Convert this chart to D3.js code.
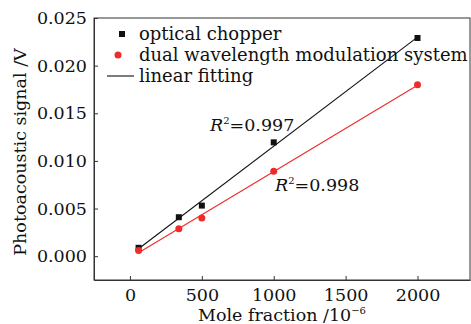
<!DOCTYPE html>
<html>
<head>
<meta charset="utf-8">
<script src="https://cdn.jsdelivr.net/npm/d3@7"></script>
<style>
  body { margin: 0; background: #fff; }
  svg text { font-family: "DejaVu Serif", serif; fill: #111; }
</style>
</head>
<body>
<svg id="chart" width="471" height="324"></svg>
<script>
// data
var moleFraction = [60, 340, 500, 1000, 2000];
var chopperSignal = [0.00088, 0.00409, 0.00531, 0.01195, 0.0229];
var dualSignal = [0.0006, 0.00287, 0.00402, 0.00891, 0.0180];
var xTicks = [0, 500, 1000, 1500, 2000];
var yTicks = [0, 0.005, 0.010, 0.015, 0.020, 0.025];
var seriesNames = ["optical chopper", "dual wavelength modulation system", "linear fitting"];
var r2Labels = ["0.997", "0.998"];

var svg = d3.select("#chart");
var plotLeft = 94, plotRight = 470, plotTop = 18, plotBottom = 280;
var red = "#ee2c2c";
var fontSize = "17.5px";

var x = d3.scaleLinear().domain([-250, 2365]).range([plotLeft, plotRight]);
var y = d3.scaleLinear().domain([-0.0025, 0.025]).range([plotBottom, plotTop]);

// least squares fit
function fit(xs, ys) {
    var mx = d3.mean(xs), my = d3.mean(ys);
    var sxy = d3.sum(xs, function(v, i) { return (v - mx) * (ys[i] - my); });
    var sxx = d3.sum(xs, function(v) { return (v - mx) * (v - mx); });
    var b = sxy / sxx;
    return { slope: b, intercept: my - b * mx };
}

// frame
svg.append("rect")
    .attr("x", plotLeft).attr("y", plotTop)
    .attr("width", plotRight - plotLeft).attr("height", plotBottom - plotTop)
    .attr("fill", "none").attr("stroke", "#333").attr("stroke-width", 1);

// axes (ticks inward)
var xAxis = svg.append("g").attr("transform", "translate(0," + plotBottom + ")")
    .call(d3.axisBottom(x).tickValues(xTicks).tickSizeInner(-4).tickSizeOuter(0).tickPadding(9)
        .tickFormat(d3.format("d")));
var yAxis = svg.append("g").attr("transform", "translate(" + plotLeft + ",0)")
    .call(d3.axisLeft(y).tickValues(yTicks).tickSizeInner(-4).tickSizeOuter(0).tickPadding(7)
        .tickFormat(d3.format(".3f")));
[xAxis, yAxis].forEach(function(g) {
    g.select(".domain").attr("stroke", "#333");
    g.selectAll(".tick line").attr("stroke", "#333");
    g.selectAll(".tick text").attr("font-size", fontSize).attr("font-family", "DejaVu Serif").attr("fill", "#111");
});

// fit lines
function drawFit(ys, color) {
    var f = fit(moleFraction, ys);
    var x0 = d3.min(moleFraction), x1 = d3.max(moleFraction);
    svg.append("line")
        .attr("x1", x(x0)).attr("y1", y(f.intercept + f.slope * x0))
        .attr("x2", x(x1)).attr("y2", y(f.intercept + f.slope * x1))
        .attr("stroke", color).attr("stroke-width", 1.1);
}
drawFit(chopperSignal, "#111");
drawFit(dualSignal, red);

// points
svg.selectAll("rect.chopper").data(moleFraction).enter()
    .append("rect").attr("class", "chopper")
    .attr("x", function(d) { return x(d) - 3; })
    .attr("y", function(d, i) { return y(chopperSignal[i]) - 3; })
    .attr("width", 6).attr("height", 6)
    .attr("fill", "#111");
svg.selectAll("circle.dual").data(moleFraction).enter()
    .append("circle").attr("class", "dual")
    .attr("cx", function(d) { return x(d); })
    .attr("cy", function(d, i) { return y(dualSignal[i]); })
    .attr("r", 3.5)
    .attr("fill", red);

// legend
var lg = svg.append("g");
lg.append("rect").attr("x", 119).attr("y", 31).attr("width", 6).attr("height", 6).attr("fill", "#111");
lg.append("circle").attr("cx", 118).attr("cy", 55).attr("r", 3.5).attr("fill", red);
lg.append("line").attr("x1", 107).attr("x2", 134).attr("y1", 76).attr("y2", 76)
    .attr("stroke", "#111").attr("stroke-width", 1.1);
lg.selectAll("text").data(seriesNames).enter()
    .append("text")
    .attr("x", 139)
    .attr("y", function(d, i) { return 40 + i * 21; })
    .attr("font-size", "18px")
    .text(function(d) { return d; });

// R^2 annotations
function r2(px, py, val) {
    var t = svg.append("text").attr("x", px).attr("y", py).attr("font-size", fontSize);
    t.append("tspan").attr("font-style", "italic").text("R");
    t.append("tspan").attr("font-size", "10px").attr("dy", "-7").text("2");
    t.append("tspan").attr("dy", "7").text("=" + val);
}
r2(210, 131, r2Labels[0]);
r2(275, 191, r2Labels[1]);

// axis titles
svg.append("text")
    .attr("transform", "translate(26,152) rotate(-90)")
    .attr("text-anchor", "middle")
    .attr("font-size", fontSize)
    .text("Photoacoustic signal /V");
var xt = svg.append("text")
    .attr("x", (plotLeft + plotRight) / 2).attr("y", 321)
    .attr("text-anchor", "middle")
    .attr("font-size", fontSize);
xt.append("tspan").text("Mole fraction /10");
xt.append("tspan").attr("font-size", "10px").attr("dy", "-7").text("\u22126");
</script>
</body>
</html>
